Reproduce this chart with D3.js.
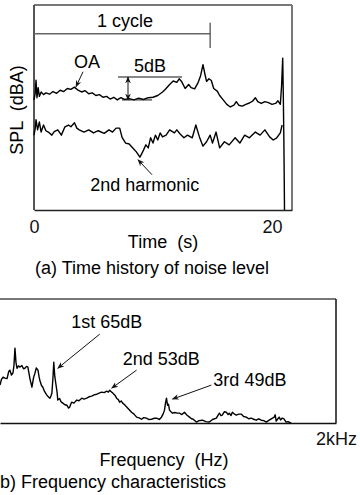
<!DOCTYPE html>
<html>
<head>
<meta charset="utf-8">
<script src="https://cdn.jsdelivr.net/npm/d3@7"></script>
<style>
  body { margin: 0; background: #fff; }
  svg { display: block; font-family: "Liberation Sans", Arial, sans-serif; }
  svg text { white-space: pre; }
</style>
</head>
<body>
<svg id="chart"></svg>
<script>
// Overall size of the picture
const width = 360;
const height = 495;

// (a) time history: [time (s), SPL (dBA)]
const oaLevel = [
  [0, 75.0], [0.1, 76.5], [0.17, 79.5], [0.25, 75.5], [0.35, 77.8], [0.45, 75.8], [0.6, 76.8],
  [0.8, 76.2], [1.0, 76.6], [1.3, 76.3], [1.6, 76.9], [1.9, 76.5], [2.2, 77.2], [2.5, 76.9],
  [2.8, 77.6], [3.1, 77.4], [3.4, 77.9], [3.7, 77.2], [4.0, 76.8], [4.3, 77.1], [4.6, 76.4],
  [4.9, 76.6], [5.2, 76.0], [5.5, 76.2], [5.8, 75.6], [6.1, 75.8], [6.4, 75.2], [6.7, 75.6],
  [7.0, 75.0], [7.3, 75.5], [7.6, 75.1], [8.0, 75.3], [8.4, 75.0], [8.8, 75.4], [9.2, 75.1],
  [9.6, 75.5], [10.0, 75.6], [10.4, 76.0], [10.8, 76.8], [11.0, 77.3], [11.4, 78.5], [11.7, 79.3],
  [12.0, 79.0], [12.2, 79.8], [12.4, 79.2], [12.7, 77.6], [13.0, 78.5], [13.2, 77.8], [13.5, 77.5],
  [13.8, 79.0], [14.0, 80.5], [14.2, 83.0], [14.35, 81.0], [14.5, 79.2], [14.7, 79.8], [14.9, 79.4],
  [15.1, 77.6], [15.4, 77.0], [15.6, 76.0], [15.9, 75.0], [16.2, 74.0], [16.5, 73.4], [16.8, 73.8],
  [17.0, 74.6], [17.2, 73.8], [17.5, 73.6], [17.8, 74.0], [18.1, 74.3], [18.4, 74.8], [18.6, 75.5],
  [18.8, 74.6], [19.1, 74.2], [19.4, 74.6], [19.7, 74.4], [20.0, 74.0], [20.3, 74.2], [20.5, 74.8],
  [20.7, 74.0], [20.8, 78.0], [20.9, 84.5], [20.95, 76.0], [21.0, 65.0], [21.05, 50.0]
];
const harmonicLevel = [
  [0, 67.0], [0.1, 68.5], [0.17, 70.5], [0.3, 68.2], [0.45, 70.0], [0.6, 67.7], [0.8, 69.3],
  [1.0, 68.0], [1.2, 67.7], [1.5, 67.0], [1.7, 67.8], [2.0, 68.2], [2.3, 67.0], [2.6, 68.9],
  [2.9, 69.3], [3.1, 68.9], [3.4, 69.8], [3.6, 68.6], [3.8, 68.2], [4.2, 67.7], [4.6, 68.2],
  [5.0, 67.5], [5.4, 68.0], [5.9, 67.4], [6.3, 68.2], [6.6, 67.7], [6.9, 68.6], [7.2, 68.6],
  [7.4, 66.5], [7.7, 65.2], [8.0, 65.0], [8.3, 64.1], [8.6, 63.2], [8.9, 62.0], [9.0, 62.5],
  [9.2, 63.6], [9.4, 64.8], [9.6, 64.1], [9.8, 66.4], [10.0, 65.2], [10.2, 67.0], [10.4, 65.9],
  [10.6, 67.5], [10.8, 66.6], [11.1, 67.0], [11.4, 68.2], [11.8, 67.5], [12.0, 68.2], [12.3, 67.2],
  [12.6, 66.4], [12.9, 67.0], [13.3, 66.4], [13.6, 69.3], [13.9, 66.6], [14.2, 64.5], [14.5, 65.5],
  [14.8, 67.0], [15.0, 65.2], [15.3, 67.7], [15.6, 64.1], [16.0, 65.5], [16.4, 64.8], [16.9, 66.4],
  [17.3, 65.2], [17.7, 67.0], [18.1, 66.4], [18.6, 67.7], [19.0, 67.0], [19.4, 68.2], [19.8, 66.6],
  [20.1, 65.9], [20.4, 66.4], [20.7, 67.5], [20.85, 69.3]
];
const timeTicks = [0, 20];
const cycleSpan = [0, 14.8];

// (b) spectrum: [frequency (Hz), level (dB)]
const spectrum = [
  [0, 55.2], [8, 57.5], [18, 58.6], [30, 58.2], [42, 58.0], [52, 61.0], [59, 61.6], [68, 59.5],
  [77, 60.3], [83, 63.5], [89, 71.0], [95, 65.0], [101, 62.4], [110, 63.4], [119, 62.9], [130, 63.6],
  [140, 62.2], [148, 62.4], [158, 63.2], [166, 62.9], [178, 58.0], [190, 54.3], [200, 58.5], [208, 60.3],
  [216, 62.5], [226, 61.6], [232, 59.0], [237, 57.3], [247, 55.0], [255, 54.3], [265, 52.5], [279, 50.9],
  [290, 50.0], [297, 49.6], [303, 50.5], [309, 51.8], [315, 58.0], [320, 65.0], [326, 59.0], [332, 56.0],
  [340, 52.0], [344, 48.8], [355, 49.5], [364, 48.0], [374, 47.5], [386, 46.8], [398, 46.6], [408, 45.4],
  [415, 45.8], [421, 47.0], [427, 47.9], [440, 47.5], [457, 48.8], [470, 48.5], [487, 49.6], [500, 49.2],
  [516, 49.6], [530, 50.2], [546, 50.5], [560, 51.0], [576, 51.3], [590, 51.8], [605, 52.2], [620, 52.0],
  [635, 52.6], [645, 52.2], [653, 53.0], [662, 52.4], [671, 51.8], [685, 50.8], [694, 49.6], [705, 48.9],
  [712, 47.9], [722, 48.4], [730, 47.5], [742, 46.8], [754, 45.8], [768, 44.8], [783, 43.6], [798, 42.8],
  [813, 41.5], [828, 41.2], [843, 40.6], [855, 41.3], [872, 41.1], [885, 40.5], [902, 40.6], [917, 41.0],
  [932, 41.1], [948, 40.5], [961, 41.5], [972, 43.0], [979, 44.5], [985, 47.5], [991, 49.6], [997, 46.6],
  [1003, 47.0], [1009, 44.5], [1018, 43.8], [1027, 43.2], [1040, 43.5], [1056, 43.2], [1068, 43.2], [1083, 42.6],
  [1098, 43.6], [1112, 42.4], [1128, 41.5], [1140, 40.8], [1150, 40.6], [1169, 39.4], [1185, 40.0], [1205, 40.2],
  [1225, 39.6], [1246, 39.4], [1265, 40.5], [1288, 41.1], [1300, 42.6], [1306, 43.2], [1315, 42.2], [1323, 42.4],
  [1335, 43.8], [1347, 43.6], [1358, 42.6], [1365, 43.2], [1375, 42.2], [1383, 43.6], [1395, 42.8], [1407, 42.4],
  [1420, 42.8], [1436, 42.8], [1450, 41.8], [1466, 41.5], [1480, 40.8], [1496, 41.1], [1510, 40.6], [1525, 40.2],
  [1540, 40.8], [1555, 40.2], [1570, 40.0], [1585, 39.4], [1602, 40.2], [1615, 40.8], [1632, 41.5], [1638, 42.5],
  [1644, 39.8], [1652, 40.6], [1662, 41.5], [1670, 40.3], [1680, 41.1], [1690, 40.8], [1703, 39.4], [1715, 39.6],
  [1733, 38.9]
];
const freqTicks = [2000];
const freqTickLabels = ["2kHz"];

// Annotations in data units: text anchor point and arrow tail -> tip
const topNotes = [
  { text: "OA", at: [4.45, 82.3], tail: [4.12, 81.4], tip: [3.53, 78.0] },
  { text: "2nd harmonic", at: [9.3, 54.3], tail: [9.92, 58.0], tip: [8.74, 61.4] }
];
const bottomNotes = [
  { text: "1st 65dB", at: [635, 79.5], anchor: "middle", tail: [594, 77.0], tip: [344, 62.4] },
  { text: "2nd 53dB", at: [730, 63.7], anchor: "start", tail: [813, 61.6], tip: [665, 53.9] },
  { text: "3rd 49dB", at: [1270, 54.7], anchor: "start", tail: [1258, 55.2], tip: [1027, 49.2] }
];
// 5 dB scale bar: upper level, lower level
const scaleBar = { top: 80.2, bottom: 75.0, topFrom: 7.06, topTo: 12.44, botFrom: 7.39, botTo: 9.92, at: 7.9 };

const svg = d3.select("#chart").attr("width", width).attr("height", height);

const defs = svg.append("defs");
defs.append("marker")
  .attr("id", "head")
  .attr("viewBox", "0 -5 10 10")
  .attr("refX", 9)
  .attr("refY", 0)
  .attr("markerWidth", 7)
  .attr("markerHeight", 7)
  .attr("markerUnits", "userSpaceOnUse")
  .attr("orient", "auto-start-reverse")
  .append("path")
  .attr("d", "M0,-4 L10,0 L0,4 L3,0 Z")
  .attr("fill", "#111");

const fontSize = 18;

function drawArrow(g, x, y, tail, tip) {
  g.append("line")
    .attr("x1", x(tail[0])).attr("y1", y(tail[1]))
    .attr("x2", x(tip[0])).attr("y2", y(tip[1]))
    .attr("stroke", "#111")
    .attr("stroke-width", 1)
    .attr("marker-end", "url(#head)");
}

// ---------- (a) Time history of noise level ----------
function drawTimeHistory() {
  const x = d3.scaleLinear().domain([0, 21.68]).range([34, 292]);
  const y = d3.scaleLinear().domain([50, 96.1]).range([210, 7]);
  const g = svg.append("g");

  // frame: gray top/right, darker axes
  g.append("line").attr("x1", 34).attr("x2", 292).attr("y1", 5).attr("y2", 5)
    .attr("stroke", "#777").attr("stroke-width", 2);
  g.append("line").attr("x1", 292).attr("x2", 292).attr("y1", 5).attr("y2", 210)
    .attr("stroke", "#777").attr("stroke-width", 2);
  g.append("line").attr("x1", 34).attr("x2", 34).attr("y1", 5).attr("y2", 210)
    .attr("stroke", "#555").attr("stroke-width", 2);

  const xAxis = g.append("g")
    .attr("transform", "translate(0,210)")
    .call(d3.axisBottom(x).tickValues(timeTicks).tickSize(0).tickPadding(10).tickFormat(d3.format("d")));
  xAxis.select(".domain").attr("stroke", "#222").attr("stroke-width", 1.6);
  xAxis.selectAll("text").attr("font-size", fontSize).attr("font-family", null).attr("fill", "#111");

  const line = d3.line().x((d) => x(d[0])).y((d) => y(d[1]));
  g.append("path").datum(oaLevel).attr("d", line)
    .attr("fill", "none").attr("stroke", "#000").attr("stroke-width", 1.4).attr("stroke-linejoin", "round");
  g.append("path").datum(harmonicLevel).attr("d", line)
    .attr("fill", "none").attr("stroke", "#000").attr("stroke-width", 1.4).attr("stroke-linejoin", "round");

  // 1 cycle bracket
  g.append("line").attr("x1", x(cycleSpan[0])).attr("x2", x(cycleSpan[1]))
    .attr("y1", y(90)).attr("y2", y(90)).attr("stroke", "#666").attr("stroke-width", 1.5);
  g.append("line").attr("x1", x(cycleSpan[1])).attr("x2", x(cycleSpan[1]))
    .attr("y1", y(92.5)).attr("y2", y(86.8)).attr("stroke", "#444").attr("stroke-width", 1.2);
  g.append("text").attr("x", x(7.65)).attr("y", y(91.6))
    .attr("text-anchor", "middle").attr("font-size", fontSize).text("1 cycle");

  // 5 dB scale bar
  g.append("line").attr("x1", x(scaleBar.topFrom)).attr("x2", x(scaleBar.topTo))
    .attr("y1", y(scaleBar.top)).attr("y2", y(scaleBar.top)).attr("stroke", "#111").attr("stroke-width", 1);
  g.append("line").attr("x1", x(scaleBar.botFrom)).attr("x2", x(scaleBar.botTo))
    .attr("y1", y(scaleBar.bottom)).attr("y2", y(scaleBar.bottom)).attr("stroke", "#111").attr("stroke-width", 1);
  g.append("line").attr("x1", x(scaleBar.at)).attr("x2", x(scaleBar.at))
    .attr("y1", y(scaleBar.bottom)).attr("y2", y(scaleBar.top))
    .attr("stroke", "#111").attr("stroke-width", 1)
    .attr("marker-start", "url(#head)").attr("marker-end", "url(#head)");
  g.append("text").attr("x", x(9.75)).attr("y", y(81.4))
    .attr("text-anchor", "middle").attr("font-size", fontSize).text("5dB");

  topNotes.forEach((n) => {
    drawArrow(g, x, y, n.tail, n.tip);
    g.append("text").attr("x", x(n.at[0])).attr("y", y(n.at[1]))
      .attr("text-anchor", "middle").attr("font-size", fontSize).text(n.text);
  });

  g.append("text").attr("transform", "translate(23,110) rotate(-90)")
    .attr("text-anchor", "middle").attr("font-size", fontSize).text("SPL  (dBA)");
  g.append("text").attr("x", 163).attr("y", 248)
    .attr("text-anchor", "middle").attr("font-size", fontSize).text("Time  (s)");
  g.append("text").attr("x", 152).attr("y", 274)
    .attr("text-anchor", "middle").attr("font-size", fontSize).text("(a) Time history of noise level");
}

// ---------- (b) Frequency characteristics ----------
function drawSpectrum() {
  const x = d3.scaleLinear().domain([0, 2000]).range([0, 336]);
  const y = d3.scaleLinear().domain([39, 92]).range([423, 299]);
  const g = svg.append("g");

  g.append("line").attr("x1", 0).attr("x2", 336).attr("y1", 299).attr("y2", 299)
    .attr("stroke", "#777").attr("stroke-width", 2);
  g.append("line").attr("x1", 336).attr("x2", 336).attr("y1", 299).attr("y2", 423)
    .attr("stroke", "#111").attr("stroke-width", 1.5);

  const xAxis = g.append("g")
    .attr("transform", "translate(0,423)")
    .call(d3.axisBottom(x).tickValues(freqTicks).tickSize(0).tickPadding(9)
      .tickFormat((d, i) => freqTickLabels[i]));
  xAxis.select(".domain").attr("stroke", "#111").attr("stroke-width", 1.6);
  xAxis.selectAll("text").attr("font-size", fontSize).attr("font-family", null).attr("fill", "#111");

  const line = d3.line().x((d) => x(d[0])).y((d) => y(d[1]));
  g.append("path").datum(spectrum).attr("d", line)
    .attr("fill", "none").attr("stroke", "#000").attr("stroke-width", 1.4).attr("stroke-linejoin", "round");

  bottomNotes.forEach((n) => {
    drawArrow(g, x, y, n.tail, n.tip);
    g.append("text").attr("x", x(n.at[0])).attr("y", y(n.at[1]))
      .attr("text-anchor", n.anchor).attr("font-size", fontSize).text(n.text);
  });

  g.append("text").attr("x", 164).attr("y", 466)
    .attr("text-anchor", "middle").attr("font-size", fontSize).text("Frequency  (Hz)");
  g.append("text").attr("x", -6).attr("y", 488)
    .attr("text-anchor", "start").attr("font-size", fontSize).text("(b) Frequency characteristics");
}

drawTimeHistory();
drawSpectrum();
</script>
</body>
</html>
